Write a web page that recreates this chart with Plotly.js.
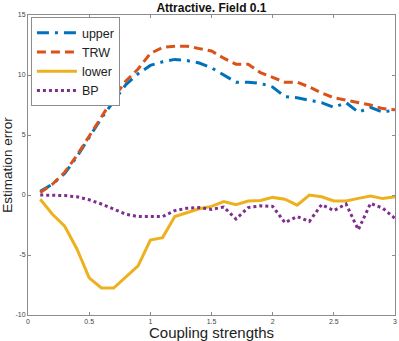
<!DOCTYPE html>
<html>
<head>
<meta charset="utf-8">
<script src="https://cdn.plot.ly/plotly-3.0.1.min.js"></script>
<style>
  body { margin: 0; padding: 0; background: #fff; }
  #myPlot { width: 399px; height: 341px; }
</style>
</head>
<body>
<div id="myPlot"></div>
<script>
// coupling strengths 0.1 .. 3.0
var coupling = [0.1, 0.2, 0.3, 0.4, 0.5, 0.6, 0.7, 0.8, 0.9, 1.0,
                1.1, 1.2, 1.3, 1.4, 1.5, 1.6, 1.7, 1.8, 1.9, 2.0,
                2.1, 2.2, 2.3, 2.4, 2.5, 2.6, 2.7, 2.8, 2.9, 3.0];

var upper = [0.3, 0.9, 1.8, 3.2, 4.8, 6.4, 7.8, 9.2, 10.1, 10.8,
             11.1, 11.3, 11.2, 11.0, 10.6, 10.0, 9.4, 9.4, 9.3, 9.0,
             8.2, 8.1, 7.9, 7.7, 7.3, 7.7, 6.9, 7.3, 6.9, 7.1];

var trw = [0.2, 0.9, 1.9, 3.3, 4.9, 6.5, 8.1, 9.5, 10.5, 11.8,
           12.3, 12.4, 12.4, 12.2, 12.0, 11.4, 10.9, 10.9, 10.2, 9.8,
           9.4, 9.4, 9.0, 8.5, 8.1, 7.9, 7.7, 7.5, 7.2, 7.1];

var lower = [-0.35, -1.6, -2.6, -4.5, -6.9, -7.75, -7.75, -6.8, -5.9, -3.75,
             -3.55, -1.8, -1.45, -1.15, -0.95, -0.55, -0.8, -0.5, -0.45, -0.2,
             -0.35, -0.85, 0.0, -0.15, -0.5, -0.5, -0.28, -0.08, -0.3, -0.15];

var bp = [0.0, -0.02, -0.05, -0.15, -0.4, -0.75, -1.15, -1.6, -1.8, -1.8,
          -1.8, -1.3, -1.1, -1.05, -1.2, -1.0, -2.0, -1.05, -0.9, -0.95,
          -2.3, -1.8, -2.2, -0.8, -1.3, -0.75, -2.9, -0.7, -1.1, -1.95];

var xTicks = [0, 0.5, 1, 1.5, 2, 2.5, 3];
var xTickText = ["0", "0.5", "1", "1.5", "2", "2.5", "3"];
var yTicks = [-10, -5, 0, 5, 10, 15];
var yTickText = ["-10", "-5", "0", "5", "10", "15"];

var data = [
  {x: coupling, y: upper, mode: "lines", name: "upper",
   line: {color: "#0072BD", width: 3, dash: "12px,6px,3px,6px"}},
  {x: coupling, y: trw, mode: "lines", name: "TRW",
   line: {color: "#D95319", width: 3, dash: "9px,5px"}},
  {x: coupling, y: lower, mode: "lines", name: "lower",
   line: {color: "#EDB120", width: 3}},
  {x: coupling, y: bp, mode: "lines", name: "BP",
   line: {color: "#7E2F8E", width: 3, dash: "3px,3px"}}
];

var axisStyle = {
  showline: true, mirror: "ticks", linecolor: "#8c8c8c", linewidth: 1,
  ticks: "inside", ticklen: 3, tickcolor: "#8c8c8c",
  showgrid: false, zeroline: false,
  tickfont: {family: "Liberation Sans, Arial, sans-serif", size: 7, color: "#444"}
};

var layout = {
  width: 399, height: 341,
  margin: {l: 28, r: 4, t: 15, b: 26},
  paper_bgcolor: "#fff", plot_bgcolor: "#fff",
  showlegend: true,
  title: {text: "<b>Attractive. Field 0.1</b>", x: 0.53, xanchor: "center", y: 0.977, yanchor: "middle",
          font: {family: "Liberation Sans, Arial, sans-serif", size: 12, color: "#111"}},
  xaxis: Object.assign({}, axisStyle, {
    range: [0, 3], tickvals: xTicks, ticktext: xTickText,
    title: {text: "Coupling strengths", standoff: 3,
            font: {family: "Liberation Sans, Arial, sans-serif", size: 15, color: "#222"}}
  }),
  yaxis: Object.assign({}, axisStyle, {
    range: [-10, 15], tickvals: yTicks, ticktext: yTickText,
    title: {text: "Estimation error", standoff: 6,
            font: {family: "Liberation Sans, Arial, sans-serif", size: 13.5, color: "#222"}}
  }),
  legend: {x: 0.008, y: 0.993, xanchor: "left", yanchor: "top",
           bgcolor: "#fff", bordercolor: "#8c8c8c", borderwidth: 1,
           font: {family: "Liberation Sans, Arial, sans-serif", size: 12.5, color: "#222"},
           tracegroupgap: 0, itemwidth: 40}
};

Plotly.newPlot("myPlot", data, layout, {displayModeBar: false, staticPlot: true});
</script>
</body>
</html>
